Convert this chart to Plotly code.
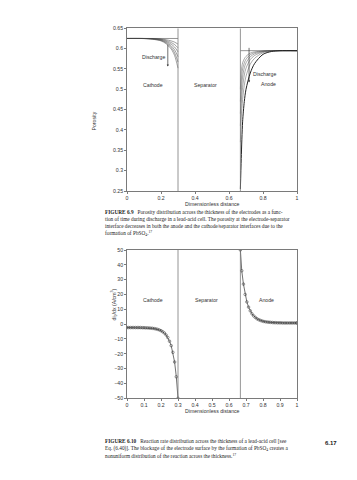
import plotly.graph_objects as go

# ---------------- Figure 6.9 data (porosity) ----------------
cath_x = [0.0, 0.1, 0.15, 0.2, 0.23, 0.26, 0.28, 0.3]
cath_curves = [
    [0.625, 0.625, 0.6248, 0.6235, 0.622, 0.619, 0.616, 0.611],
    [0.625, 0.625, 0.6245, 0.623, 0.620, 0.615, 0.610, 0.602],
    [0.625, 0.625, 0.6243, 0.622, 0.618, 0.611, 0.604, 0.592],
    [0.625, 0.6249, 0.624, 0.621, 0.616, 0.607, 0.597, 0.580],
    [0.625, 0.6248, 0.6235, 0.620, 0.614, 0.603, 0.590, 0.567],
    [0.625, 0.6247, 0.623, 0.619, 0.612, 0.599, 0.583, 0.552],
]
anode_x = [0.667, 0.672, 0.68, 0.69, 0.70, 0.725, 0.75, 0.8, 0.85, 0.9, 1.0]
anode_curves = [
    [0.500, 0.545, 0.565, 0.575, 0.581, 0.589, 0.592, 0.594, 0.595, 0.595, 0.595],
    [0.470, 0.520, 0.550, 0.565, 0.574, 0.585, 0.590, 0.594, 0.595, 0.595, 0.595],
    [0.440, 0.495, 0.530, 0.553, 0.565, 0.580, 0.587, 0.593, 0.595, 0.595, 0.595],
    [0.410, 0.465, 0.505, 0.535, 0.552, 0.573, 0.583, 0.592, 0.594, 0.595, 0.595],
    [0.370, 0.430, 0.475, 0.510, 0.532, 0.562, 0.576, 0.590, 0.594, 0.595, 0.595],
    [0.255, 0.330, 0.420, 0.470, 0.500, 0.540, 0.563, 0.586, 0.593, 0.595, 0.595],
]
init_cath_x = [0.0, 0.3]
init_cath_y = [0.625, 0.625]
init_anode_x = [0.667, 1.0]
init_anode_y = [0.595, 0.595]
interfaces = [0.3, 0.667]

por_yticks = [0.25, 0.3, 0.35, 0.4, 0.45, 0.5, 0.55, 0.6, 0.65]
por_yticktext = ["0.25", "0.3", "0.35", "0.4", "0.45", "0.5", "0.55", "0.6", "0.65"]
por_xticks = [0, 0.2, 0.4, 0.6, 0.8, 1]
por_xticktext = ["0", "0.2", "0.4", "0.6", "0.8", "1"]

# ---------------- Figure 6.10 data (reaction rate) ----------------
rc_x = [0.0, 0.01, 0.02, 0.03, 0.04, 0.05, 0.06, 0.07, 0.08, 0.09, 0.10,
        0.11, 0.12, 0.13, 0.14, 0.15, 0.16, 0.17, 0.18, 0.19, 0.20,
        0.21, 0.22, 0.23, 0.24, 0.25, 0.26, 0.27, 0.28, 0.29, 0.30]
rc_y = [-2.3, -2.3, -2.3, -2.3, -2.3, -2.3, -2.3, -2.3, -2.3, -2.4, -2.4,
        -2.5, -2.5, -2.6, -2.7, -2.8, -3.0, -3.2, -3.5, -3.9, -4.4,
        -5.1, -6.0, -7.3, -9.0, -11.5, -14.5, -19.0, -25.5, -35.5, -50.0]
ra_x = [0.667, 0.675, 0.685, 0.695, 0.705, 0.715, 0.725, 0.735, 0.745, 0.755,
        0.765, 0.775, 0.785, 0.795, 0.805, 0.815, 0.825, 0.835, 0.845, 0.855,
        0.865, 0.875, 0.885, 0.895, 0.905, 0.915, 0.925, 0.935, 0.945, 0.955,
        0.965, 0.975, 0.985, 0.995, 1.0]
ra_y = [50.0, 36.0, 27.0, 20.0, 15.0, 11.5, 9.0, 7.0, 5.6, 4.5,
        3.6, 3.0, 2.5, 2.1, 1.8, 1.6, 1.4, 1.3, 1.2, 1.1,
        1.0, 1.0, 0.9, 0.9, 0.9, 0.8, 0.8, 0.8, 0.8, 0.8,
        0.8, 0.8, 0.8, 0.8, 0.8]
rr_yticks = [-50, -40, -30, -20, -10, 0, 10, 20, 30, 40, 50]
rr_yticktext = ["\u221250", "\u221240", "\u221230", "\u221220", "\u221210", "0",
                "10", "20", "30", "40", "50"]
rr_xticks = [0, 0.1, 0.2, 0.3, 0.4, 0.5, 0.6, 0.7, 0.8, 0.9, 1]
rr_xticktext = ["0", "0.1", "0.2", "0.3", "0.4", "0.5", "0.6", "0.7", "0.8", "0.9", "1"]

# The page body has a default 8px margin; the figure is sized to fit the window.
OFF = 8
W, H = 341, 464
def px(x):
    return (x - OFF) / W
def py(y):
    return 1 - (y - OFF) / H

SANS = "Liberation Sans, Arial, sans-serif"
SERIF = "Liberation Serif, Times New Roman, serif"
LINE = "#333333"
AX = "#7a7a7a"

fig = go.Figure()

# Figure 6.9 traces
fig.add_trace(go.Scatter(x=init_cath_x, y=init_cath_y, mode="lines",
                         line=dict(color=AX, width=0.8), xaxis="x", yaxis="y"))
fig.add_trace(go.Scatter(x=init_anode_x, y=init_anode_y, mode="lines",
                         line=dict(color=AX, width=0.8), xaxis="x", yaxis="y"))
for i, c in enumerate(cath_curves):
    fig.add_trace(go.Scatter(x=cath_x, y=c, mode="lines",
                             line=dict(color="#444444", width=0.5, shape="spline", smoothing=0.8),
                             xaxis="x", yaxis="y"))
for i, c in enumerate(anode_curves):
    last = i == len(anode_curves) - 1
    fig.add_trace(go.Scatter(x=anode_x, y=c, mode="lines",
                             line=dict(color="#222222" if last else "#555555",
                                       width=1.0 if last else 0.5,
                                       shape="spline", smoothing=0.8),
                             xaxis="x", yaxis="y"))

# Figure 6.10 traces
mk = dict(symbol="circle-open", size=2.6, color=LINE, line=dict(width=0.5))
fig.add_trace(go.Scatter(x=rc_x, y=rc_y, mode="lines+markers",
                         line=dict(color=LINE, width=0.7), marker=mk,
                         xaxis="x2", yaxis="y2"))
fig.add_trace(go.Scatter(x=ra_x, y=ra_y, mode="lines+markers",
                         line=dict(color=LINE, width=0.7), marker=mk,
                         xaxis="x2", yaxis="y2"))

shapes = []
for xv in interfaces:
    shapes.append(dict(type="line", xref="x", yref="y", x0=xv, x1=xv, y0=0.25, y1=0.65,
                       line=dict(color=AX, width=0.8)))
    shapes.append(dict(type="line", xref="x2", yref="y2", x0=xv, x1=xv, y0=-50, y1=50,
                       line=dict(color=AX, width=0.8)))

xdom = [px(127), px(297)]
axis_common = dict(showline=True, linecolor=AX, linewidth=0.8, mirror=True,
                   ticks="outside", ticklen=2, tickwidth=0.8, tickcolor=AX,
                   showgrid=False, zeroline=False, automargin=False,
                   tickfont=dict(family=SANS, size=5.2, color="#333"))

fig.update_layout(
    width=W, height=H, margin=dict(l=0, r=0, t=0, b=0, pad=0, autoexpand=False),
    paper_bgcolor="white", plot_bgcolor="white", showlegend=False,
    shapes=shapes,
    xaxis=dict(domain=xdom, range=[0, 1], tickvals=por_xticks, ticktext=por_xticktext,
               anchor="y", **axis_common),
    yaxis=dict(domain=[py(191), py(28.3)], range=[0.25, 0.65], tickvals=por_yticks,
               ticktext=por_yticktext, anchor="x", **axis_common),
    xaxis2=dict(domain=xdom, range=[0, 1], tickvals=rr_xticks, ticktext=rr_xticktext,
                anchor="y2", **axis_common),
    yaxis2=dict(domain=[py(398.3), py(250)], range=[-50, 50], tickvals=rr_yticks,
                ticktext=rr_yticktext, anchor="x2", **axis_common),
)

lab = dict(family=SANS, size=5.2, color="#333")
ann = []
# Fig 6.9 labels
ann.append(dict(x=0.158, y=0.58, xref="x", yref="y", text="Discharge", showarrow=False, font=lab))
ann.append(dict(x=0.24, y=0.556, xref="x", yref="y", ax=0.24, ay=0.621, axref="x", ayref="y",
                text=" ", showarrow=True, arrowhead=2, arrowsize=0.6, arrowwidth=0.7,
                arrowcolor="#333", font=lab))
ann.append(dict(x=0.15, y=0.51, xref="x", yref="y", text="Cathode", showarrow=False, font=lab))
ann.append(dict(x=0.46, y=0.51, xref="x", yref="y", text="Separator", showarrow=False, font=lab))
ann.append(dict(x=0.728, y=0.538, xref="x", yref="y", text="Discharge", xanchor="left",
                showarrow=False, font=lab))
ann.append(dict(x=0.718, y=0.517, xref="x", yref="y", ax=0.718, ay=0.613, axref="x", ayref="y",
                text=" ", showarrow=True, arrowhead=2, arrowsize=0.6, arrowwidth=0.7,
                arrowcolor="#333", font=lab))
ann.append(dict(x=0.83, y=0.512, xref="x", yref="y", text="Anode", showarrow=False, font=lab))
ann.append(dict(x=px(212), y=py(204.5), xref="paper", yref="paper", text="Dimensionless distance",
                showarrow=False, borderpad=0, font=lab))
ann.append(dict(x=px(88), y=py(110), xref="paper", yref="paper", text="Porosity",
                textangle=-90, showarrow=False, font=lab))
# Fig 6.10 labels
ann.append(dict(x=0.15, y=16, xref="x2", yref="y2", text="Cathode", showarrow=False, font=lab))
ann.append(dict(x=0.47, y=16, xref="x2", yref="y2", text="Separator", showarrow=False, font=lab))
ann.append(dict(x=0.82, y=16, xref="x2", yref="y2", text="Anode", showarrow=False, font=lab))
ann.append(dict(x=px(212), y=py(414.5), xref="paper", yref="paper", text="Dimensionless distance",
                showarrow=False, borderpad=0, font=lab))
ann.append(dict(x=px(108), y=py(323), xref="paper", yref="paper",
                text="di<sub>2</sub>/dx (A/cm<sup>3</sup>)",
                textangle=-90, showarrow=False, font=lab))

cap = dict(family=SERIF, size=5.3, color="#222")
cap1 = ["<b>FIGURE 6.9</b>   Porosity distribution across the thickness of the electrodes as a func-",
        "tion of time during discharge in a lead-acid cell. The porosity at the electrode-separator",
        "interface decreases in both the anode and the cathode/separator interfaces due to the",
        "formation of PbSO<sub>4</sub>.<sup>17</sup>"]
for i, t in enumerate(cap1):
    ann.append(dict(x=px(104), y=py(211.5 + i * 7.2), xref="paper", yref="paper", text=t,
                    xanchor="left", yanchor="middle", showarrow=False, borderpad=0, font=cap))
cap2 = ["<b>FIGURE 6.10</b>   Reaction rate distribution across the thickness of a lead-acid cell [see",
        "Eq. (6.40)]. The blockage of the electrode surface by the formation of PbSO<sub>4</sub> creates a",
        "nonuniform distribution of the reaction across the thickness.<sup>17</sup>"]
for i, t in enumerate(cap2):
    ann.append(dict(x=px(104), y=py(441 + i * 7.5), xref="paper", yref="paper", text=t,
                    xanchor="left", yanchor="middle", showarrow=False, borderpad=0, font=cap))
ann.append(dict(x=px(339), y=py(448), xref="paper", yref="paper", text="<b>6.17</b>",
                showarrow=False, font=dict(family=SANS, size=6, color="#222")))

fig.update_layout(annotations=ann)
fig.write_html("out.html")
